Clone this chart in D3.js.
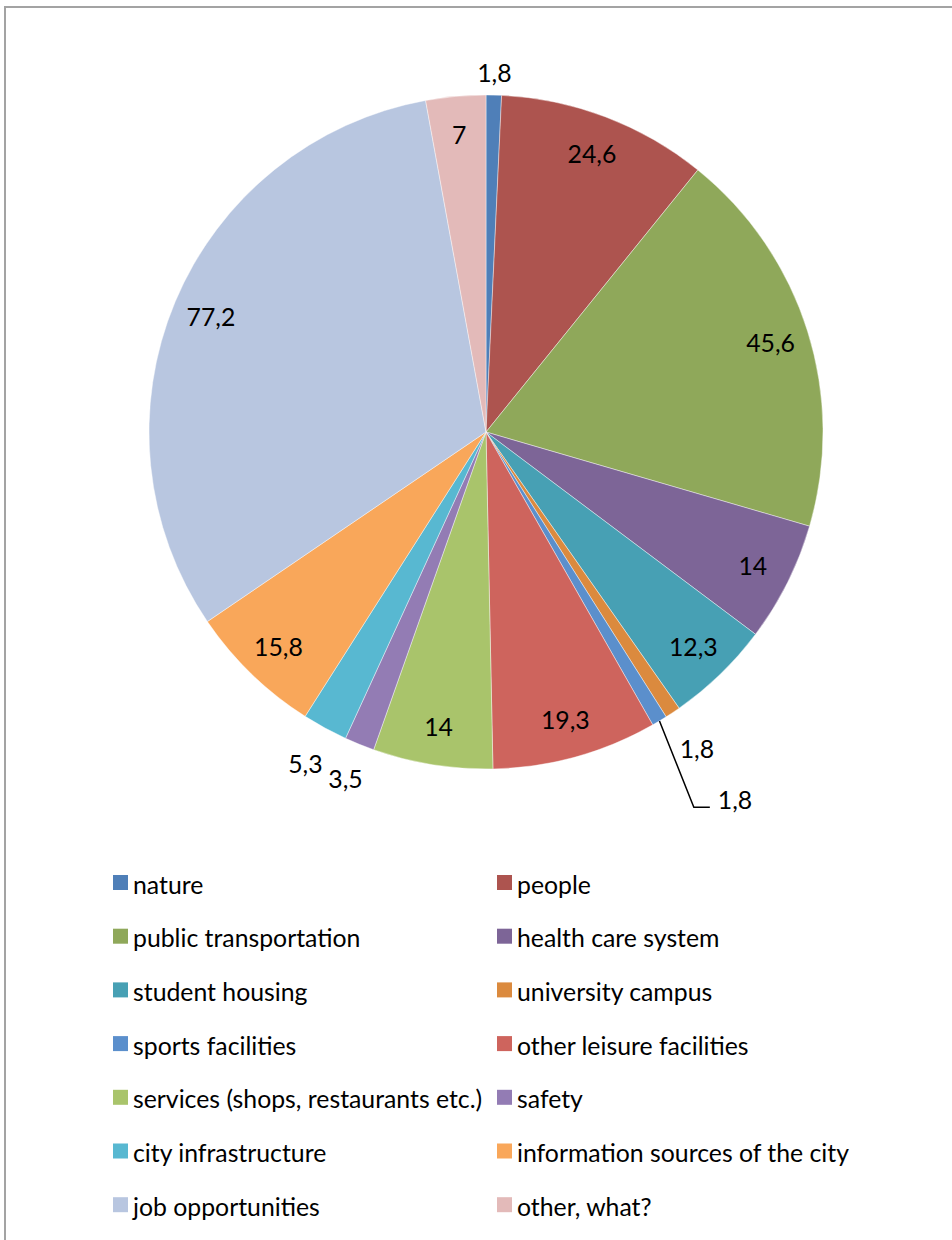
<!DOCTYPE html>
<html>
<head>
<meta charset="utf-8">
<script src="https://cdn.jsdelivr.net/npm/d3@7"></script>
<style>
  html, body { margin: 0; padding: 0; background: #fff; }
  svg { display: block; }
  text { font-family: Lato, "Open Sans", sans-serif; fill: #000; }
</style>
</head>
<body>
<svg id="chart" width="952" height="1240"></svg>
<script>
// Survey answers, in the order the slices run clockwise from 12 o'clock
const categories = [
  "nature", "people", "public transportation", "health care system",
  "student housing", "university campus", "sports facilities",
  "other leisure facilities", "services (shops, restaurants etc.)", "safety",
  "city infrastructure", "information sources of the city",
  "job opportunities", "other, what?"
];
const values = [1.8, 24.6, 45.6, 14, 12.3, 1.8, 1.8, 19.3, 14, 3.5, 5.3, 15.8, 77.2, 7];
const valueLabels = ["1,8", "24,6", "45,6", "14", "12,3", "1,8", "1,8", "19,3", "14", "3,5", "5,3", "15,8", "77,2", "7"];
const colors = [
  "#4f7fb8", "#ad544f", "#8fa85a", "#7d6597", "#47a0b4", "#db8a3e", "#5b8fcc",
  "#ce645d", "#a9c46b", "#937cb4", "#58b8d1", "#f9a75a", "#b8c6e0", "#e3bab9"
];

const svg = d3.select("#chart");

// frame around the chart area
svg.append("rect")
  .attr("x", 5).attr("y", 7)
  .attr("width", 980).attr("height", 1280)
  .attr("fill", "none")
  .attr("stroke", "#a3a3a3")
  .attr("stroke-width", 2);

const cx = 486, cy = 432, R = 337;
const data = categories.map((c, i) => ({ name: c, value: values[i], label: valueLabels[i], color: colors[i] }));

const pie = d3.pie().value(d => d.value).sort(null);
const arcs = pie(data);
const arc = d3.arc().innerRadius(0).outerRadius(R);

const g = svg.append("g").attr("transform", `translate(${cx},${cy})`);

g.selectAll("path.slice")
  .data(arcs)
  .join("path")
  .attr("class", "slice")
  .attr("d", arc)
  .attr("fill", d => d.data.color)
  .attr("stroke", "#ffffff")
  .attr("stroke-width", 0.6)
  .attr("stroke-opacity", 0.7);

// data labels: inside for big slices, outside for thin ones
const fontSize = 24.8;
const mid = d => (d.startAngle + d.endAngle) / 2;
const polar = (a, r) => [r * Math.sin(a), -r * Math.cos(a)];
const total = d3.sum(values);

const addLabel = (x, y, txt, anchor) => g.append("text")
  .attr("x", x).attr("y", y)
  .attr("text-anchor", anchor || "middle")
  .attr("dominant-baseline", "central")
  .attr("font-size", fontSize)
  .text(txt);

const placed = [];
arcs.forEach(d => {
  const a = mid(d);
  if (d.value / total > 0.025) {
    const [x, y] = polar(a, R * 0.885);
    addLabel(x, y, d.data.label);
    return;
  }
  // outside label: its box sits just beyond the rim along the slice's mid angle
  const t = addLabel(0, 0, d.data.label);
  const w = t.node().getComputedTextLength();
  const h = fontSize * 0.95;
  const extent = Math.abs(Math.sin(a)) * w * 1.25 + Math.abs(Math.cos(a)) * h / 2;
  const [x, y] = polar(a, R + 10 + extent);
  const clash = placed.some(p => Math.hypot(p[0] - x, p[1] - y) < 40);
  if (!clash) {
    t.attr("x", x).attr("y", y);
    placed.push([x, y]);
  } else {
    // pushed further out, joined to its slice by a leader line
    const p0 = polar(a, R);
    const p1 = polar(a + 0.035, R + 92);
    const p2 = [p1[0] + 16, p1[1]];
    g.append("polyline")
      .attr("points", [p0, p1, p2].map(p => p.join(",")).join(" "))
      .attr("fill", "none")
      .attr("stroke", "#000")
      .attr("stroke-width", 1.5);
    t.attr("x", p2[0] + 8).attr("y", p2[1] - 8).attr("text-anchor", "start");
    placed.push([p2[0] + 25, p2[1]]);
  }
});

// legend in two columns
const legendX = [113, 497];
const legendY0 = 884, legendStep = 53.7;
const legend = svg.append("g");
data.forEach((d, i) => {
  const col = i % 2, row = Math.floor(i / 2);
  const y = legendY0 + row * legendStep;
  legend.append("rect")
    .attr("x", legendX[col]).attr("y", y - 9)
    .attr("width", 15).attr("height", 15)
    .attr("fill", d.color);
  legend.append("text")
    .attr("x", legendX[col] + 20).attr("y", y)
    .attr("dominant-baseline", "central")
    .attr("font-size", fontSize)
    .text(d.name);
});
</script>
</body>
</html>
